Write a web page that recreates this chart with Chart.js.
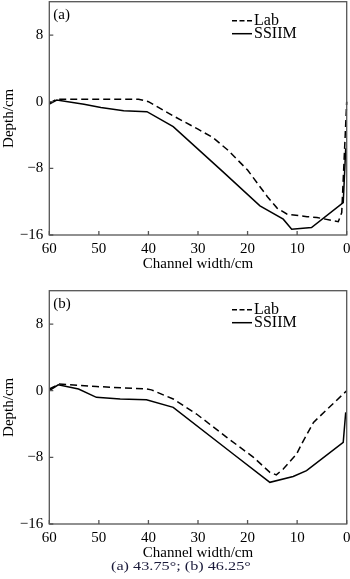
<!DOCTYPE html>
<html>
<head>
<meta charset="utf-8">
<script src="https://cdn.jsdelivr.net/npm/chart.js@4"></script>
<style>
  html, body { margin: 0; padding: 0; background: #fff; }
  #wrap { position: relative; width: 350px; height: 579px; overflow: hidden; }
  .box { position: absolute; left: 0; width: 350px; height: 275px; }
  #caption {
    position: absolute; left: 111px; top: 559px;
    font-family: "Liberation Serif", serif; font-size: 12.5px; color: #1a1a3a;
    transform: scaleX(1.3); transform-origin: left top; white-space: nowrap;
  }
</style>
</head>
<body>
<div id="wrap">
  <div class="box" style="top:0px"><canvas id="chartA"></canvas></div>
  <div class="box" style="top:289px"><canvas id="chartB"></canvas></div>
  <div id="caption">(a) 43.75°; (b) 46.25°</div>
</div>
<script>
// tick labels
const xTicks = [60, 50, 40, 30, 20, 10, 0];
const yTicks = [-16, -8, 0, 8];

// panel (a) 43.75°
const labWidthA = [60, 58.5, 50, 42, 40, 35, 30, 27, 24, 20, 16, 14, 12, 8, 6, 1.7, 1.0, 0];
const labDepthA = [-0.2, 0.3, 0.3, 0.3, 0, -1.7, -3.3, -4.3, -5.8, -8.2, -11.4, -12.8, -13.5, -13.8, -13.9, -14.4, -13.3, 0];
const ssiimWidthA = [60, 58.5, 53, 49.6, 45, 40.3, 35, 25, 17.5, 12.8, 11.1, 7.1, 0.7, 0.2];
const ssiimDepthA = [-0.3, 0.2, -0.3, -0.7, -1.1, -1.2, -3.0, -8.4, -12.5, -14.1, -15.3, -15.1, -12.1, -5.6];

// panel (b) 46.25°
const labWidthB = [60, 58, 50.5, 40.4, 39.4, 35, 30.3, 24.2, 18.8, 15.5, 14.2, 12.8, 10.1, 9.1, 6.7, 0];
const labDepthB = [0.2, 0.8, 0.5, 0.2, 0.1, -1.0, -2.8, -5.6, -8.0, -9.8, -10.1, -9.4, -7.6, -6.4, -3.8, 0];
const ssiimWidthB = [60, 58.2, 54.1, 50.5, 45.7, 40.4, 35, 22.9, 15.5, 10.8, 8.1, 0.7, 0.2];
const ssiimDepthB = [0, 0.7, 0.2, -0.8, -1.0, -1.1, -2.0, -7.6, -11.0, -10.3, -9.6, -6.2, -2.6];

const FONT = '"Liberation Serif", "Times New Roman", serif';
Chart.defaults.font.family = FONT;
Chart.defaults.color = '#000';

const toPoints = (xs, ys) => xs.map((x, i) => ({ x: x, y: ys[i] }));

// frame, inward ticks, panel tag and legend
const framePlugin = {
  id: 'frame',
  afterDraw(chart, args, opts) {
    const { ctx, chartArea: a, scales } = chart;
    ctx.save();
    ctx.strokeStyle = '#555';
    ctx.lineWidth = 1.3;
    ctx.strokeRect(a.left, a.top, a.right - a.left, a.bottom - a.top);
    ctx.beginPath();
    xTicks.forEach(v => {
      const px = scales.x.getPixelForValue(v);
      ctx.moveTo(px, a.bottom);
      ctx.lineTo(px, a.bottom - 4);
    });
    yTicks.forEach(v => {
      const py = scales.y.getPixelForValue(v);
      ctx.moveTo(a.left, py);
      ctx.lineTo(a.left + 4, py);
    });
    ctx.stroke();

    ctx.fillStyle = '#000';
    ctx.font = '15px ' + FONT;
    ctx.textBaseline = 'middle';
    ctx.textAlign = 'left';
    ctx.fillText(opts.tag, a.left + 4, a.top + 13);

    // legend
    ctx.font = '16px ' + FONT;
    const rows = [[chart.data.datasets[0], a.top + 19], [chart.data.datasets[1], a.top + 32]];
    rows.forEach(([ds, y]) => {
      ctx.strokeStyle = '#000';
      ctx.lineWidth = 1.5;
      ctx.setLineDash(ds.borderDash ? [5, 2.5] : []);
      ctx.beginPath();
      ctx.moveTo(232, y);
      ctx.lineTo(252, y);
      ctx.stroke();
      ctx.setLineDash([]);
      ctx.fillText(ds.label, 254, y);
    });
    ctx.restore();
  }
};

function makeChart(id, tag, labW, labD, simW, simD) {
  return new Chart(document.getElementById(id), {
    type: 'line',
    data: {
      datasets: [
        {
          label: 'Lab',
          data: toPoints(labW, labD),
          borderColor: '#000',
          borderWidth: 1.5,
          borderDash: [7, 4],
          pointRadius: 0,
          fill: false
        },
        {
          label: 'SSIIM',
          data: toPoints(simW, simD),
          borderColor: '#000',
          borderWidth: 1.5,
          pointRadius: 0,
          fill: false
        }
      ]
    },
    options: {
      responsive: true,
      maintainAspectRatio: false,
      animation: false,
      clip: false,
      layout: { padding: { left: 0, top: 1.7, right: 3.3, bottom: 0 } },
      plugins: {
        legend: { display: false },
        tooltip: { enabled: false },
        frame: { tag: tag }
      },
      scales: {
        x: {
          type: 'linear',
          reverse: true,
          min: 0,
          max: 60,
          afterBuildTicks: s => { s.ticks = xTicks.map(v => ({ value: v })); },
          afterFit: s => { s.height = 40; s.paddingLeft = 0; s.paddingRight = 0; },
          grid: { display: false, drawTicks: false },
          border: { display: false },
          ticks: { font: { size: 15 }, padding: 5, maxRotation: 0 },
          title: { display: true, text: 'Channel width/cm', font: { size: 15 }, padding: { top: 0, bottom: 1.5 } }
        },
        y: {
          min: -16,
          max: 12,
          afterBuildTicks: s => { s.ticks = yTicks.map(v => ({ value: v })); },
          afterFit: s => { s.width = 49.3; s.paddingTop = 0; s.paddingBottom = 0; },
          grid: { display: false, drawTicks: false },
          border: { display: false },
          ticks: {
            font: { size: 15 },
            padding: 6,
            callback: v => String(v).replace('-', '\u2212')
          },
          title: { display: true, text: 'Depth/cm', font: { size: 15 }, padding: { top: 0, bottom: 0 } }
        }
      }
    },
    plugins: [framePlugin]
  });
}

makeChart('chartA', '(a)', labWidthA, labDepthA, ssiimWidthA, ssiimDepthA);
makeChart('chartB', '(b)', labWidthB, labDepthB, ssiimWidthB, ssiimDepthB);
</script>
</body>
</html>
